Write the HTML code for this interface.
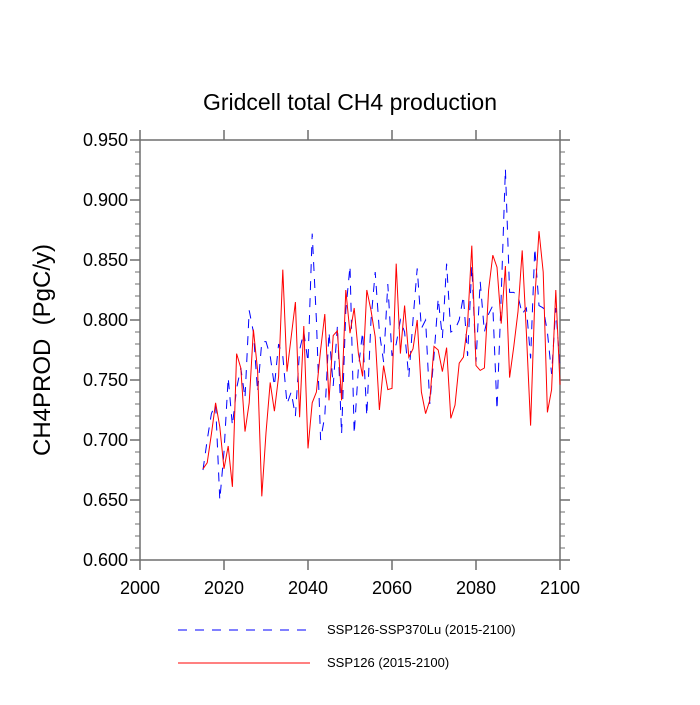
<!DOCTYPE html>
<html><head><meta charset="utf-8"><style>
body{margin:0;background:#fff}
svg text{font-family:"Liberation Sans",Arial,sans-serif}
</style></head><body>
<svg id="chart" width="700" height="700">
<text x="350" y="110" font-size="23" text-anchor="middle">Gridcell total CH4 production</text>
<text transform="translate(50,350) rotate(-90)" font-size="24" text-anchor="middle" xml:space="preserve">CH4PROD  (PgC/y)</text>
<g id="axes"></g>
<g id="series"></g>
<g>
<line x1="178" y1="630" x2="310" y2="630" stroke="#0000ff" stroke-dasharray="9,8"/>
<text x="327" y="634" font-size="13">SSP126-SSP370Lu (2015-2100)</text>
<line x1="178" y1="663" x2="310" y2="663" stroke="#ff0000"/>
<text x="327" y="667" font-size="13">SSP126 (2015-2100)</text>
</g>
</svg>
<script>
const years=[];for(let y=2015;y<=2100;y++)years.push(y);
const ssp126=[0.676,0.681,0.705,0.731,0.711,0.676,0.695,0.661,0.772,0.760,0.707,0.731,0.792,0.758,0.653,0.706,0.748,0.724,0.753,0.842,0.757,0.786,0.815,0.719,0.795,0.693,0.731,0.740,0.775,0.805,0.733,0.787,0.791,0.733,0.825,0.789,0.810,0.772,0.753,0.825,0.808,0.786,0.725,0.762,0.742,0.743,0.847,0.772,0.812,0.769,0.776,0.800,0.740,0.722,0.733,0.778,0.775,0.757,0.777,0.718,0.729,0.764,0.769,0.797,0.862,0.762,0.758,0.760,0.825,0.854,0.844,0.797,0.845,0.752,0.778,0.807,0.858,0.789,0.712,0.817,0.874,0.840,0.723,0.742,0.825,0.746];
const ssp126lu=[0.675,0.700,0.722,0.730,0.650,0.690,0.752,0.712,0.743,0.760,0.735,0.808,0.790,0.740,0.782,0.782,0.770,0.745,0.780,0.770,0.730,0.740,0.720,0.775,0.790,0.765,0.872,0.800,0.700,0.720,0.790,0.745,0.795,0.705,0.808,0.845,0.705,0.760,0.790,0.720,0.800,0.840,0.790,0.765,0.830,0.770,0.780,0.800,0.790,0.752,0.800,0.843,0.793,0.800,0.730,0.770,0.818,0.785,0.847,0.790,0.792,0.800,0.820,0.770,0.845,0.765,0.832,0.790,0.805,0.812,0.725,0.820,0.926,0.823,0.823,0.820,0.805,0.810,0.768,0.860,0.812,0.810,0.790,0.755,0.810,0.760];
const xTicks=[2000,2020,2040,2060,2080,2100];
const yTicks=["0.600","0.650","0.700","0.750","0.800","0.850","0.900","0.950"];
const NS="http://www.w3.org/2000/svg";
const X0=140,X1=560,Y0=560,Y1=140;
const xs=v=>X0+(v-2000)/100*(X1-X0);
const ys=v=>Y0-(v-0.6)/0.35*(Y0-Y1);
const AX='#6e6e6e';
function mk(tag,attrs,parent){const e=document.createElementNS(NS,tag);for(const k in attrs)e.setAttribute(k,attrs[k]);parent.appendChild(e);return e;}
const ax=document.getElementById('axes');
const frame=mk('rect',{x:X0,y:Y1,width:X1-X0,height:Y0-Y1,fill:'none',stroke:AX,'stroke-width':1.5},ax);


xTicks.forEach(y=>{
mk('line',{x1:xs(y),x2:xs(y),y1:Y0,y2:Y0+10,stroke:AX,'stroke-width':1.5},ax);
mk('line',{x1:xs(y),x2:xs(y),y1:Y1,y2:Y1-10,stroke:AX,'stroke-width':1.5},ax);});
for(let i=0;i<=35;i++){const v=0.6+i*0.01;const maj=(i%5===0);const L=maj?10:5;
mk('line',{x1:X0,x2:X0-L,y1:ys(v),y2:ys(v),stroke:AX,'stroke-width':maj?1.5:1},ax);
mk('line',{x1:X1,x2:X1+L,y1:ys(v),y2:ys(v),stroke:AX,'stroke-width':maj?1.5:1},ax);}
xTicks.forEach(t=>{const e=mk('text',{x:xs(t),y:Y0+34,'font-size':18,'text-anchor':'middle'},ax);e.textContent=t;

});
yTicks.forEach(t=>{const e=mk('text',{x:X0-12,y:ys(parseFloat(t))+6,'font-size':18,'text-anchor':'end'},ax);e.textContent=t;

});
const sg=document.getElementById('series');
function path(vals){return vals.map((v,i)=>(i?'L':'M')+xs(years[i]).toFixed(1)+','+ys(v).toFixed(1)).join('');}
const b=mk('path',{d:path(ssp126lu),fill:'none',stroke:'#0000ff','stroke-width':1,'stroke-dasharray':'9,8'},sg);


const r=mk('path',{d:path(ssp126),fill:'none',stroke:'#ff0000','stroke-width':1},sg);


</script>
</body></html>
